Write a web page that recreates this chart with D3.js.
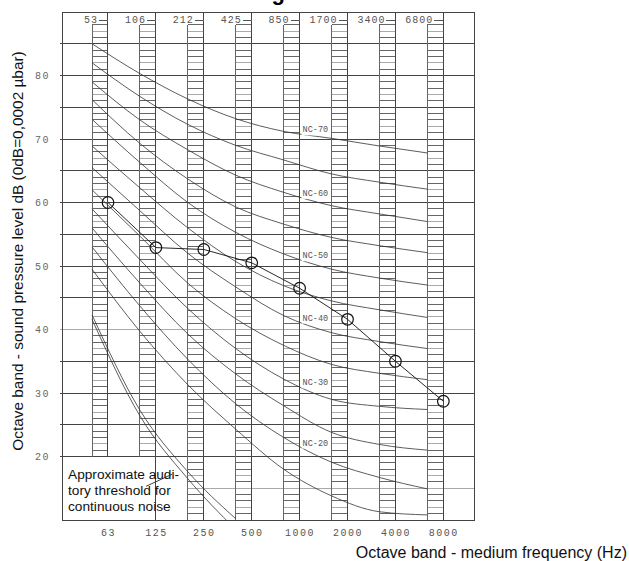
<!DOCTYPE html>
<html>
<head>
<meta charset="utf-8">
<script src="https://cdn.jsdelivr.net/npm/d3@7"></script>
<style>
  html, body { margin: 0; padding: 0; background: #fff; }
  svg { display: block; }
</style>
</head>
<body>
<svg id="chart" width="629" height="561"></svg>
<script>
// ---------- data ----------
const bands = ["63", "125", "250", "500", "1000", "2000", "4000", "8000"];
const topLabels = ["53", "106", "212", "425", "850", "1700", "3400", "6800"];
const yTickValues = [20, 30, 40, 50, 60, 70, 80];
const ncNames = ["NC-15", "NC-20", "NC-25", "NC-30", "NC-35", "NC-40", "NC-45", "NC-50", "NC-55", "NC-60", "NC-65", "NC-70"];
const labeledCurves = ["NC-20", "NC-30", "NC-40", "NC-50", "NC-60", "NC-70"];
// NC curve levels (dB) read at the left edge of each band strip
const nc15 = [49.5, 39.7, 31.3, 24.3, 18.0, 13.8, 11.3, 10.8];
const nc20 = [53.0, 43.7, 35.3, 28.3, 23.0, 19.1, 16.7, 14.9];
const nc25 = [56.0, 47.3, 39.3, 33.0, 28.0, 23.8, 21.9, 21.0];
const nc30 = [59.0, 51.0, 43.3, 37.0, 32.2, 29.0, 27.9, 27.4];
const nc35 = [62.0, 54.7, 47.3, 41.7, 37.5, 34.5, 33.1, 32.1];
const nc40 = [65.5, 58.7, 52.0, 46.7, 42.2, 39.5, 38.1, 37.0];
const nc45 = [68.9, 62.3, 56.0, 50.7, 46.9, 44.5, 43.1, 41.9];
const nc50 = [73.1, 66.3, 60.0, 55.3, 51.9, 49.5, 48.1, 47.0];
const nc55 = [76.2, 69.3, 63.7, 59.3, 56.6, 54.5, 53.2, 52.1];
const nc60 = [79.0, 73.0, 68.3, 64.3, 61.6, 59.5, 58.2, 57.0];
const nc65 = [82.0, 76.7, 72.3, 69.0, 66.7, 64.5, 63.2, 62.1];
const nc70 = [85.0, 80.3, 76.3, 73.2, 71.2, 70.1, 68.9, 67.8];
// measured spectrum at band centres
const measured = [60.0, 52.9, 52.6, 50.5, 46.5, 41.6, 35.0, 28.7];
// approximate auditory threshold (two traced lines), at strip left edges of first 4 bands
const thresholdA = [41.6, 26.4, 16.5, 8.5];
const thresholdB = [42.3, 27.3, 17.6, 10.2];
const annotationLines = ["Approximate audi-", "tory threshold for", "continuous noise"];

const ncSeries = [nc15, nc20, nc25, nc30, nc35, nc40, nc45, nc50, nc55, nc60, nc65, nc70];

// ---------- layout ----------
const svg = d3.select("#chart");
const frame = { left: 62, right: 474, top: 12, bottom: 520 };
const strip = 1 / 3;              // strip width in octaves
const x = d3.scaleLinear().domain([-0.96, 7.64]).range([frame.left, frame.right]);
const y = d3.scaleLinear().domain([10, 90]).range([frame.bottom, frame.top]);
const gridColor = "#444";
const hatchColor = "#666";

svg.append("defs").append("clipPath").attr("id", "plotclip")
  .append("rect").attr("x", frame.left).attr("y", frame.top)
  .attr("width", frame.right - frame.left).attr("height", frame.bottom - frame.top);

// title (mostly above the visible area, as in the reference)
svg.append("text").attr("x", 285).attr("y", 0).attr("text-anchor", "end")
  .attr("font-family", "Liberation Sans, Arial, sans-serif").attr("font-weight", "bold")
  .attr("font-size", 22).attr("fill", "#000").text("NC Rating");

const g = svg.append("g");

// horizontal grid lines every 5 dB
const hLevels = d3.range(15, 90, 5);
g.selectAll("line.h").data(hLevels).join("line")
  .attr("x1", d => d === 15 ? x(2 - strip) : frame.left - 2)
  .attr("x2", frame.right)
  .attr("y1", d => y(d)).attr("y2", d => y(d))
  .attr("stroke", d => (d === 40 || d === 15) ? "#aaa" : gridColor)
  .attr("stroke-width", 1)
  .attr("shape-rendering", "crispEdges");

// hatched strips
bands.forEach((b, i) => {
  const lowEnd = i < 2 ? 20 : 10;
  const levels = d3.range(88, lowEnd - 0.5, -1).filter(v => v % 5 !== 0);
  const sg = g.append("g");
  sg.selectAll("line").data(levels).join("line")
    .attr("x1", x(i - strip)).attr("x2", x(i))
    .attr("y1", d => y(d)).attr("y2", d => y(d))
    .attr("stroke", (d, k) => (k % 4 === 1) ? "#aaa" : hatchColor)
    .attr("stroke-width", 1).attr("shape-rendering", "crispEdges");
  sg.append("line")
    .attr("x1", x(i - strip)).attr("x2", x(i - strip))
    .attr("y1", y(88)).attr("y2", y(lowEnd))
    .attr("stroke", hatchColor).attr("shape-rendering", "crispEdges");
  // band centre vertical line
  sg.append("line")
    .attr("x1", x(i)).attr("x2", x(i))
    .attr("y1", y(90)).attr("y2", y(i === 0 ? 20 : 10))
    .attr("stroke", gridColor).attr("shape-rendering", "crispEdges");
});

// frame
g.append("rect")
  .attr("x", frame.left).attr("y", frame.top)
  .attr("width", frame.right - frame.left).attr("height", frame.bottom - frame.top)
  .attr("fill", "none").attr("stroke", gridColor).attr("shape-rendering", "crispEdges");

const monoFont = "Liberation Mono, DejaVu Sans Mono, monospace";

// top band-edge labels
bands.forEach((b, i) => {
  g.append("text")
    .attr("x", x(i) - 10).attr("y", y(89) + 2)
    .attr("text-anchor", "end").attr("dominant-baseline", "middle")
    .attr("font-family", monoFont).attr("font-size", 10).attr("letter-spacing", 1)
    .attr("fill", "#555").text(topLabels[i]);
  g.append("line")
    .attr("x1", x(i) - 9).attr("x2", x(i))
    .attr("y1", y(89) + 2.5).attr("y2", y(89) + 2.5)
    .attr("stroke", "#555").attr("shape-rendering", "crispEdges");
});

// bottom axis (band centres)
const xAxis = d3.axisBottom(x).tickValues(d3.range(bands.length))
  .tickFormat(i => bands[i]).tickSize(0).tickPadding(0);
const xa = svg.append("g").attr("transform", `translate(0,${frame.bottom + 9})`).call(xAxis);
xa.select(".domain").remove();
xa.selectAll("text").attr("font-family", monoFont).attr("font-size", 10)
  .attr("letter-spacing", 1.5).attr("fill", "#555");

// left axis
const yAxis = d3.axisLeft(y).tickValues(yTickValues).tickSize(0).tickPadding(0);
const ya = svg.append("g").attr("transform", `translate(${frame.left - 12},0)`).call(yAxis);
ya.select(".domain").remove();
ya.selectAll("text").attr("font-family", monoFont).attr("font-size", 10)
  .attr("letter-spacing", 1.5).attr("fill", "#666");

// NC curves
const curveGen = d3.line()
  .x((d, i) => x(i - strip))
  .y(d => y(d))
  .curve(d3.curveMonotoneX);

const cg = svg.append("g").attr("clip-path", "url(#plotclip)");
cg.selectAll("path.nc").data(ncSeries).join("path")
  .attr("d", d => curveGen(d))
  .attr("fill", "none").attr("stroke", "#333").attr("stroke-width", 0.8);

// threshold curves
cg.selectAll("path.thr").data([thresholdA, thresholdB]).join("path")
  .attr("d", d => curveGen(d))
  .attr("fill", "none").attr("stroke", "#333").attr("stroke-width", 0.8);

// NC labels (on the curves, between 1000 Hz line and 2000 Hz strip)
labeledCurves.forEach(name => {
  const k = ncNames.indexOf(name);
  const vals = ncSeries[k];
  const lx = x(4) + 3;
  const t = (lx - x(4 - strip)) / (x(5 - strip) - x(4 - strip));
  const lv = vals[4] + (vals[5] - vals[4]) * t;
  const ly = y(lv) - 4;
  const lbl = svg.append("g");
  const txt = lbl.append("text")
    .attr("x", lx).attr("y", ly)
    .attr("dominant-baseline", "middle")
    .attr("font-family", monoFont).attr("font-size", 8.5)
    .attr("fill", "#555").text(name);
  const bb = txt.node().getBBox();
  lbl.insert("rect", "text")
    .attr("x", bb.x - 1).attr("y", bb.y).attr("width", bb.width + 2).attr("height", bb.height)
    .attr("fill", "#fff");
});

// measured spectrum
const mLine = d3.line().x((d, i) => x(i)).y(d => y(d));
svg.append("path").attr("d", mLine(measured))
  .attr("fill", "none").attr("stroke", "#111").attr("stroke-width", 0.9);
svg.selectAll("circle.m").data(measured).join("circle")
  .attr("cx", (d, i) => x(i)).attr("cy", d => y(d)).attr("r", 5.8)
  .attr("fill", "none").attr("stroke", "#111").attr("stroke-width", 1.2);

// annotation
const ann = svg.append("text")
  .attr("font-family", "Liberation Sans, Arial, sans-serif").attr("font-size", 13.7).attr("fill", "#111");
annotationLines.forEach((s, k) => {
  ann.append("tspan").attr("x", frame.left + 6).attr("y", y(20) + 22 + k * 16).text(s);
});
svg.append("line")
  .attr("x1", 146).attr("y1", y(15.3)).attr("x2", 172).attr("y2", y(17.2))
  .attr("stroke", "#111").attr("stroke-width", 0.8);

// axis titles
svg.append("text")
  .attr("transform", `translate(23, 251) rotate(-90)`)
  .attr("text-anchor", "middle")
  .attr("font-family", "Liberation Sans, Arial, sans-serif").attr("font-size", 15.4).attr("fill", "#111")
  .text("Octave band - sound pressure level dB (0dB=0,0002 \u00b5bar)");
svg.append("text")
  .attr("x", 627).attr("y", 558).attr("text-anchor", "end")
  .attr("font-family", "Liberation Sans, Arial, sans-serif").attr("font-size", 16).attr("fill", "#111")
  .text("Octave band - medium frequency (Hz)");
</script>
</body>
</html>
